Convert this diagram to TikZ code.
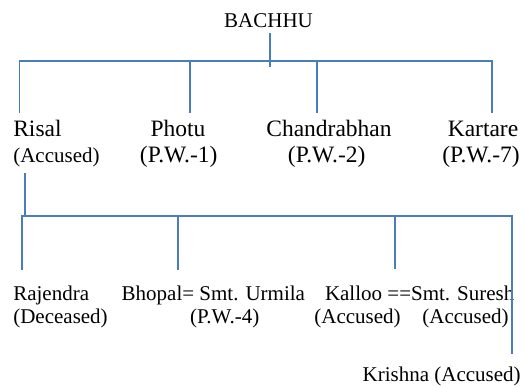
\documentclass[tikz,border=0pt]{standalone}
\usepackage{fontspec}
\setmainfont{Liberation Serif}
\definecolor{linkblue}{RGB}{74,126,187}
\begin{document}
\begin{tikzpicture}[x=1pt,y=-1pt,
  txt/.style={inner sep=0pt, outer sep=0pt, font=\fontsize{23.5}{27}\selectfont},
  small/.style={inner sep=0pt, outer sep=0pt, font=\fontsize{21}{25}\selectfont},
  link/.style={draw=linkblue, line width=1.8pt}]
\useasboundingbox (0,0) rectangle (527,387);
% texts
\node[small, anchor=base] (bachhu) at (268.5,27.5) {BACHHU};
\node[txt, anchor=base west] (risal) at (13.3,136.7) {Risal};
\node[small, anchor=base west] (risalacc) at (13.3,162.5) {(Accused)};
\node[txt, anchor=base] (photu) at (178,136.7) {Photu};
\node[txt, anchor=base] (photupw) at (178.7,162.5) {(P.W.-1)};
\node[txt, anchor=base] (chandra) at (329,136.7) {Chandrabhan};
\node[txt, anchor=base] (chandrapw) at (326.7,162.5) {(P.W.-2)};
\node[txt, anchor=base] (kartare) at (483,136.7) {Kartare};
\node[txt, anchor=base] (kartarepw) at (481,162.5) {(P.W.-7)};
\node[small, anchor=base west] (rajendra) at (13.3,300) {Rajendra};
\node[small, anchor=base west] (deceased) at (13.3,323) {(Deceased)};
\node[small, anchor=base west] (bhopal) at (121.7,300) {Bhopal= Smt. Urmila};
\node[small, anchor=base] (pwfour) at (224.7,323) {(P.W.-4)};
\node[small, anchor=base west] (kalloo) at (325,300) {Kalloo ==Smt. Suresh};
\node[small, anchor=base] (kallooacc) at (357.5,323) {(Accused)};
\node[small, anchor=base] (sureshacc) at (465.5,323) {(Accused)};
\node[small, anchor=base west] (krishna) at (362.7,381.5) {Krishna (Accused)};
% junction coordinates, first generation
\coordinate (bTop) at (270,33);
\coordinate (bBot) at (270,67);
\coordinate (barL) at (19.5,61);
\coordinate (barR) at (491.7,61);
\coordinate (dRisal) at (19.5,113);
\coordinate (sPhotu) at (190,62);
\coordinate (dPhotu) at (190,113);
\coordinate (sChandra) at (316.7,62);
\coordinate (dChandra) at (316.7,113);
\coordinate (dKartare) at (491.7,113);
% second generation
\coordinate (rTop) at (25,173.3);
\coordinate (rBot) at (25,217);
\coordinate (bar2L) at (21.7,216);
\coordinate (bar2R) at (511.7,216);
\coordinate (dRajendra) at (21.7,270);
\coordinate (sBhopal) at (177.7,216);
\coordinate (dBhopal) at (177.7,270);
\coordinate (sKalloo) at (395,216);
\coordinate (dKalloo) at (395,269);
\coordinate (dKrishna) at (511.7,354);
% connectors
\draw[link] (bTop) -- (bBot);
\draw[link] (dRisal) -- (barL) -- (barR) -- (dKartare);
\draw[link] (sPhotu) -- (dPhotu);
\draw[link] (sChandra) -- (dChandra);
\draw[link] (rTop) -- (rBot);
\draw[link] (dRajendra) -- (bar2L) -- (bar2R) -- (dKrishna);
\draw[link] (sBhopal) -- (dBhopal);
\draw[link] (sKalloo) -- (dKalloo);
\end{tikzpicture}
\end{document}
